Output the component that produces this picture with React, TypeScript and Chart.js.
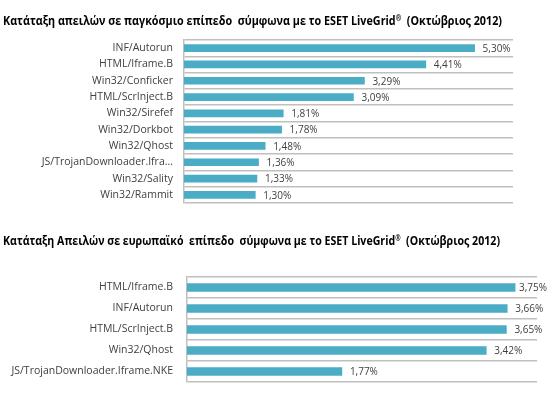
import React, { useEffect, useRef } from "react";
import { Chart, registerables } from "chart.js";

Chart.register(...registerables);

const title1 = ["Κατάταξη απειλών σε παγκόσμιο επίπεδο  σύμφωνα με το ESET LiveGrid", "®", "  (Οκτώβριος 2012)"];
const title2 = ["Κατάταξη Απειλών σε ευρωπαϊκό  επίπεδο  σύμφωνα με το ESET LiveGrid", "®", "  (Οκτώβριος 2012)"];

const globalLabels = [
  "INF/Autorun",
  "HTML/Iframe.B",
  "Win32/Conficker",
  "HTML/ScrInject.B",
  "Win32/Sirefef",
  "Win32/Dorkbot",
  "Win32/Qhost",
  "JS/TrojanDownloader.Ifra...",
  "Win32/Sality",
  "Win32/Rammit",
];
const globalValues = [5.3, 4.41, 3.29, 3.09, 1.81, 1.78, 1.48, 1.36, 1.33, 1.3];

const euroLabels = [
  "HTML/Iframe.B",
  "INF/Autorun",
  "HTML/ScrInject.B",
  "Win32/Qhost",
  "JS/TrojanDownloader.Iframe.NKE",
];
const euroValues = [3.75, 3.66, 3.65, 3.42, 1.77];

const BAR = "#4BACC6";
const GRID = "#bfbfbf";
const TXT = "#404040";
const FONT = "'Open Sans', sans-serif";

function makeChart(
  canvas: HTMLCanvasElement,
  labels: string[],
  values: number[],
  opts: {
    title: string[];
    titleY: number;
    titleW: number;
    xMax: number;
    pad: { top: number; right: number; bottom: number };
    axisW: number;
    tickPad: number;
    barT: number;
    canvasW: number;
  }
) {
  const valuePlugin = {
    id: "vals",
    afterDatasetsDraw(chart: any) {
      const ctx = chart.ctx;
      const meta = chart.getDatasetMeta(0);
      ctx.save();
      ctx.font = `10px ${FONT}`;
      ctx.fillStyle = TXT;
      ctx.textBaseline = "middle";
      meta.data.forEach((el: any, i: number) => {
        const txt = values[i].toFixed(2).replace(".", ",") + "%";
        const w = ctx.measureText(txt).width;
        let x = el.x + 8;
        if (x + w > opts.canvasW - 3) x = opts.canvasW - 3 - w;
        ctx.fillText(txt, x, el.y + 1);
      });
      ctx.restore();
    },
    afterDraw(chart: any) {
      const ctx = chart.ctx;
      ctx.save();
      const big = `bold 13px ${FONT}`;
      const small = `bold 8px ${FONT}`;
      ctx.font = big;
      const w0 = ctx.measureText(opts.title[0]).width;
      const w2 = ctx.measureText(opts.title[2]).width;
      ctx.font = small;
      const w1 = ctx.measureText(opts.title[1]).width;
      const s = opts.titleW / (w0 + w1 + w2);
      ctx.translate(3, opts.titleY);
      ctx.scale(s, 1);
      ctx.fillStyle = "#000";
      ctx.textBaseline = "alphabetic";
      ctx.font = big;
      ctx.fillText(opts.title[0], 0, 0);
      ctx.font = small;
      ctx.fillText(opts.title[1], w0, -4);
      ctx.font = big;
      ctx.fillText(opts.title[2], w0 + w1, 0);
      ctx.restore();
    },
  };

  return new Chart(canvas, {
    type: "bar",
    data: {
      labels,
      datasets: [
        {
          data: values,
          backgroundColor: BAR,
          borderWidth: 0,
          barThickness: opts.barT,
        },
      ],
    },
    options: {
      indexAxis: "y",
      animation: false,
      responsive: false,
      layout: { padding: { left: 0, top: opts.pad.top, right: opts.pad.right, bottom: opts.pad.bottom } },
      plugins: { legend: { display: false }, tooltip: { enabled: false }, title: { display: false } },
      scales: {
        x: { display: false, min: 0, max: opts.xMax },
        y: {
          grid: { color: GRID, lineWidth: 1.5, drawTicks: false, offset: true },
          border: { display: true, color: GRID, width: 1.5 },
          ticks: { color: TXT, font: { family: FONT, size: 10.5 }, padding: opts.tickPad, autoSkip: false },
          afterFit: (scale: any) => {
            scale.width = opts.axisW;
            scale.paddingTop = 0;
            scale.paddingBottom = 0;
          },
        },
      },
    },
    plugins: [valuePlugin],
  });
}

export default function App() {
  const r1 = useRef<HTMLCanvasElement>(null);
  const r2 = useRef<HTMLCanvasElement>(null);

  useEffect(() => {
    const c1 = makeChart(r1.current!, globalLabels, globalValues, {
      title: title1,
      titleY: 25,
      titleW: 499,
      xMax: 6,
      pad: { top: 40, right: 37, bottom: 12 },
      axisW: 184,
      tickPad: 11,
      barT: 7,
      canvasW: 550,
    });
    const c2 = makeChart(r2.current!, euroLabels, euroValues, {
      title: title2,
      titleY: 30,
      titleW: 497,
      xMax: 4,
      pad: { top: 62, right: 13, bottom: 14 },
      axisW: 187,
      tickPad: 14,
      barT: 8,
      canvasW: 550,
    });
    return () => {
      c1.destroy();
      c2.destroy();
    };
  }, []);

  return (
    <div style={{ position: "fixed", left: 0, top: 0, width: 550, height: 396, background: "#fff" }}>
      <canvas ref={r1} width={550} height={215} style={{ position: "absolute", left: 0, top: 0, width: 550, height: 215 }} />
      <canvas ref={r2} width={550} height={181} style={{ position: "absolute", left: 0, top: 215, width: 550, height: 181 }} />
    </div>
  );
}
